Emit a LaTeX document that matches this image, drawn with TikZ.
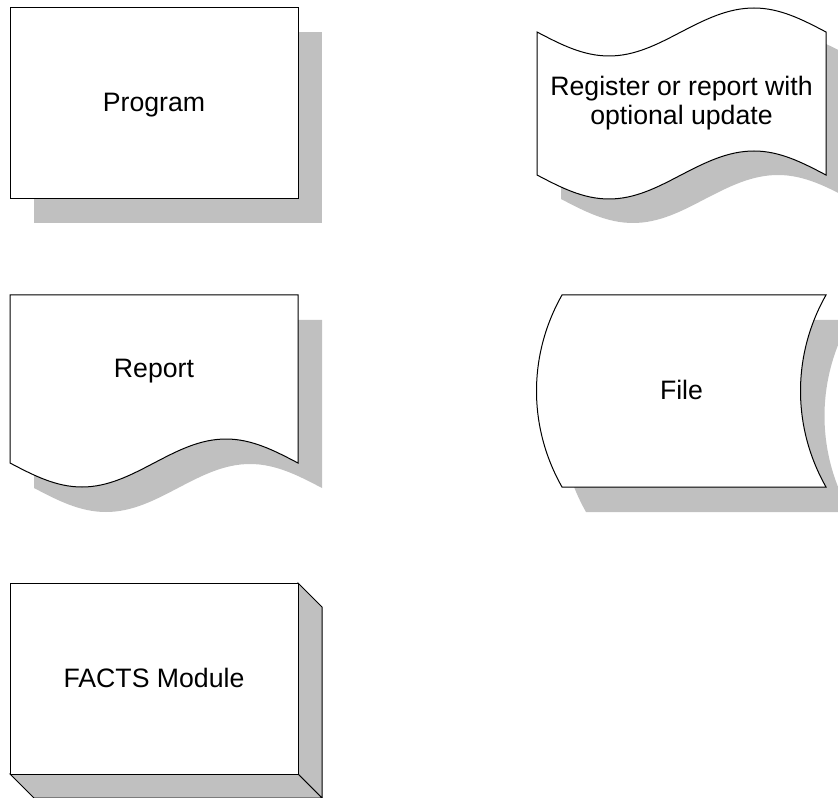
\documentclass[tikz,border=0pt]{standalone}
\usepackage{fontspec}
\setmainfont{Liberation Sans}
\definecolor{shadowgrey}{RGB}{192,192,192}
\tikzset{
  shade/.style={fill=shadowgrey, draw=none},
  face/.style={fill=white, draw=black, line width=0.75pt, line join=miter},
  side/.style={fill=shadowgrey, draw=black, line width=0.75pt},
  boxtext/.style={font=\fontsize{20}{21.3}\selectfont, inner sep=0pt, align=center}
}
\begin{document}
\begin{tikzpicture}[x=0.75pt,y=-0.75pt]
\useasboundingbox (0,0) rectangle (838,798);
\clip (0,0) rectangle (838,798);

% program
\draw[shade] (34,32) rectangle (322,223);
\draw[face] (10,8) rectangle (298,199);
\node[boxtext, anchor=base] (program) at (154,112) {Program};

% register or report
\draw[shade, shift={(24,24)}] (537,32) sin (609,56) cos (681,32) sin (754,8) cos (826,32)
  -- (826,175) sin (754,151) cos (681,175) sin (609,199) cos (537,175) -- cycle;
\draw[face] (537,32) sin (609,56) cos (681,32) sin (754,8) cos (826,32)
  -- (826,175) sin (754,151) cos (681,175) sin (609,199) cos (537,175) -- cycle;
\node[boxtext] (register) at (681.5,103) {Register or report with\\optional update};

% report
\draw[shade, shift={(24,25)}] (10,295) -- (298,295) -- (298,463) sin (226,439) cos (154,463)
  sin (82,487) cos (10,463) -- cycle;
\draw[face] (10,295) -- (298,295) -- (298,463) sin (226,439) cos (154,463)
  sin (82,487) cos (10,463) -- cycle;
\node[boxtext, anchor=base] (report) at (154,377) {Report};

% file
\draw[shade, shift={(24,25)}] (562,295) -- (826,295) .. controls (792,355) and (792,427) .. (826,487)
  -- (562,487) .. controls (528,427) and (528,355) .. (562,295) -- cycle;
\draw[face] (562,295) -- (826,295) .. controls (792,355) and (792,427) .. (826,487)
  -- (562,487) .. controls (528,427) and (528,355) .. (562,295) -- cycle;
\node[boxtext, anchor=base] (file) at (681.5,399) {File};

% facts module
\draw[side] (298,583) -- (322,607) -- (322,798) -- (298,774) -- cycle;
\draw[side] (10,774) -- (298,774) -- (322,798) -- (34,798) -- cycle;
\draw[face] (10,583) rectangle (298,774);
\node[boxtext, anchor=base] (module) at (154,687) {FACTS Module};
\end{tikzpicture}
\end{document}
